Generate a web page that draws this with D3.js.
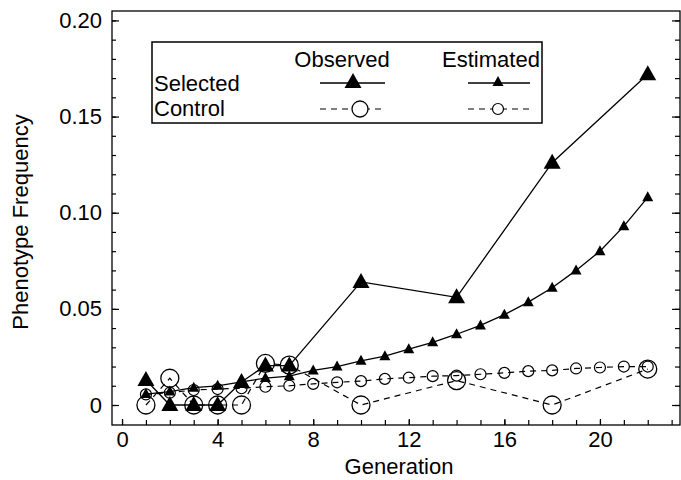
<!DOCTYPE html>
<html>
<head>
<meta charset="utf-8">
<script src="https://cdn.jsdelivr.net/npm/d3@7"></script>
<style>
  body { margin: 0; background: #fff; }
  text { font-family: "Liberation Sans", Arial, sans-serif; fill: #000; }
</style>
</head>
<body>
<script>
// data
const generations = [1, 2, 3, 4, 5, 6, 7, 8, 9, 10, 11, 12, 13, 14, 15, 16, 17, 18, 19, 20, 21, 22];
const selectedEstimated = [0.0057, 0.007, 0.009, 0.010, 0.012, 0.014, 0.015, 0.018, 0.020, 0.023, 0.0254, 0.029, 0.0326, 0.0368, 0.0414, 0.047, 0.0535, 0.061, 0.070, 0.080, 0.093, 0.108];
const controlEstimated = [0.0055, 0.0064, 0.0078, 0.0083, 0.0087, 0.0095, 0.010, 0.011, 0.0118, 0.0124, 0.0136, 0.0142, 0.015, 0.0153, 0.016, 0.0167, 0.0176, 0.018, 0.019, 0.0195, 0.020, 0.020];
const observedGenerations = [1, 2, 3, 4, 5, 6, 7, 10, 14, 18, 22];
const selectedObserved = [0.013, 0, 0, 0, 0.012, 0.0205, 0.0205, 0.064, 0.056, 0.126, 0.172];
const controlObserved = [0, 0.0139, 0, 0, 0, 0.0216, 0.0207, 0, 0.0127, 0, 0.0187];
const yTickValues = [0, 0.05, 0.10, 0.15, 0.20];
const xTickValues = [0, 4, 8, 12, 16, 20];

const canvWidth = 681, canvHeight = 480;
const margin = {top: 11, right: 1, bottom: 55, left: 112};
const width = canvWidth - margin.left - margin.right;
const height = canvHeight - margin.top - margin.bottom;

const svg = d3.select("body").append("svg")
    .attr("width", canvWidth)
    .attr("height", canvHeight);

const g = svg.append("g")
    .attr("transform", "translate(" + margin.left + "," + margin.top + ")");

const xScale = d3.scaleLinear().domain([-0.42, 23.35]).range([0, width]);
const yScale = d3.scaleLinear().domain([-0.0104, 0.2049]).range([height, 0]);

// frame
g.append("rect")
    .attr("width", width)
    .attr("height", height)
    .attr("fill", "none")
    .attr("stroke", "#000")
    .attr("stroke-width", 1.3);

function styleAxis(sel) {
    sel.select(".domain").remove();
    sel.selectAll("line").attr("stroke", "#000").attr("stroke-width", 1.2);
    sel.selectAll("text").attr("font-size", "22px").attr("font-family", "Liberation Sans, Arial, sans-serif");
}

// minor ticks
const minorY = d3.range(0, 21).map(i => i / 100);
const minorX = d3.range(0, 24);
g.append("g").call(d3.axisLeft(yScale).tickValues(minorY).tickSize(-4).tickFormat("")).call(styleAxis);
g.append("g").attr("transform", "translate(" + width + ",0)")
    .call(d3.axisRight(yScale).tickValues(minorY).tickSize(-5).tickFormat("")).call(styleAxis);
g.append("g").attr("transform", "translate(0," + height + ")")
    .call(d3.axisBottom(xScale).tickValues(minorX).tickSize(-5).tickFormat("")).call(styleAxis);

// major ticks + labels
g.append("g")
    .call(d3.axisLeft(yScale).tickValues(yTickValues).tickSize(-7).tickPadding(10)
        .tickFormat(d => d === 0 ? "0" : d3.format(".2f")(d)))
    .call(styleAxis);
g.append("g").attr("transform", "translate(" + width + ",0)")
    .call(d3.axisRight(yScale).tickValues(yTickValues).tickSize(-8).tickFormat(""))
    .call(styleAxis);
g.append("g").attr("transform", "translate(0," + height + ")")
    .call(d3.axisBottom(xScale).tickValues(xTickValues).tickSize(-6).tickPadding(6))
    .call(styleAxis);

// axis titles
svg.append("text")
    .attr("x", 399)
    .attr("y", 474)
    .attr("font-size", "22px")
    .style("text-anchor", "middle")
    .text("Generation");

svg.append("text")
    .attr("transform", "rotate(-90)")
    .attr("x", -222)
    .attr("y", 28)
    .attr("font-size", "22px")
    .style("text-anchor", "middle")
    .text("Phenotype Frequency");

// marker helpers
function triPath(w, h) {
    return "M0," + (-h * 0.6) + "L" + (w / 2) + "," + (h * 0.4) + "L" + (-w / 2) + "," + (h * 0.4) + "Z";
}
const bigTri = triPath(17, 15), smallTri = triPath(11, 10);

const line = d3.line().x(d => xScale(d[0])).y(d => yScale(d[1]));

const selEst = generations.map((x, i) => [x, selectedEstimated[i]]);
const ctlEst = generations.map((x, i) => [x, controlEstimated[i]]);
const selObs = observedGenerations.map((x, i) => [x, selectedObserved[i]]);
const ctlObs = observedGenerations.map((x, i) => [x, controlObserved[i]]);

const plot = g.append("g");

// lines
plot.append("path").datum(ctlObs).attr("d", line)
    .attr("fill", "none").attr("stroke", "#000").attr("stroke-width", 1.2).attr("stroke-dasharray", "6,5");
plot.append("path").datum(ctlEst).attr("d", line)
    .attr("fill", "none").attr("stroke", "#000").attr("stroke-width", 1.2).attr("stroke-dasharray", "6,5");
plot.append("path").datum(selEst).attr("d", line)
    .attr("fill", "none").attr("stroke", "#000").attr("stroke-width", 1.3);
plot.append("path").datum(selObs).attr("d", line)
    .attr("fill", "none").attr("stroke", "#000").attr("stroke-width", 1.3);

// markers
plot.selectAll(".ce").data(ctlEst).enter().append("circle")
    .attr("cx", d => xScale(d[0])).attr("cy", d => yScale(d[1])).attr("r", 5.5)
    .attr("fill", "none").attr("stroke", "#000").attr("stroke-width", 1.2);
plot.selectAll(".co").data(ctlObs).enter().append("circle")
    .attr("cx", d => xScale(d[0])).attr("cy", d => yScale(d[1])).attr("r", 9)
    .attr("fill", "none").attr("stroke", "#000").attr("stroke-width", 1.3);
plot.selectAll(".se").data(selEst).enter().append("path")
    .attr("d", smallTri)
    .attr("transform", d => "translate(" + xScale(d[0]) + "," + yScale(d[1]) + ")")
    .attr("fill", "#000");
plot.selectAll(".so").data(selObs).enter().append("path")
    .attr("d", bigTri)
    .attr("transform", d => "translate(" + xScale(d[0]) + "," + yScale(d[1]) + ")")
    .attr("fill", "#000");

// legend
const legend = svg.append("g");
legend.append("rect")
    .attr("x", 152).attr("y", 42).attr("width", 390).attr("height", 81)
    .attr("fill", "#fff").attr("stroke", "#000").attr("stroke-width", 1.5);

const legText = [["Observed", 342, 67, "middle"], ["Estimated", 491, 67, "middle"],
                 ["Selected", 154, 91, "start"], ["Control", 154, 116, "start"]];
legend.selectAll(".lt").data(legText).enter().append("text")
    .attr("x", d => d[1]).attr("y", d => d[2])
    .attr("font-size", "22px")
    .style("text-anchor", d => d[3])
    .text(d => d[0]);

legend.append("line").attr("x1", 320).attr("x2", 385).attr("y1", 83).attr("y2", 83)
    .attr("stroke", "#000").attr("stroke-width", 1.3);
legend.append("path").attr("d", bigTri).attr("transform", "translate(353,82)");
legend.append("line").attr("x1", 468).attr("x2", 530).attr("y1", 83).attr("y2", 83)
    .attr("stroke", "#000").attr("stroke-width", 1.3);
legend.append("path").attr("d", smallTri).attr("transform", "translate(498,82)");

legend.append("line").attr("x1", 320).attr("x2", 385).attr("y1", 109).attr("y2", 109)
    .attr("stroke", "#000").attr("stroke-width", 1.2).attr("stroke-dasharray", "6,5");
legend.append("circle").attr("cx", 360).attr("cy", 109).attr("r", 8)
    .attr("fill", "#fff").attr("stroke", "#000").attr("stroke-width", 1.3);
legend.append("line").attr("x1", 468).attr("x2", 530).attr("y1", 109).attr("y2", 109)
    .attr("stroke", "#000").attr("stroke-width", 1.2).attr("stroke-dasharray", "6,5");
legend.append("circle").attr("cx", 498).attr("cy", 109).attr("r", 5.5)
    .attr("fill", "#fff").attr("stroke", "#000").attr("stroke-width", 1.2);
</script>
</body>
</html>
